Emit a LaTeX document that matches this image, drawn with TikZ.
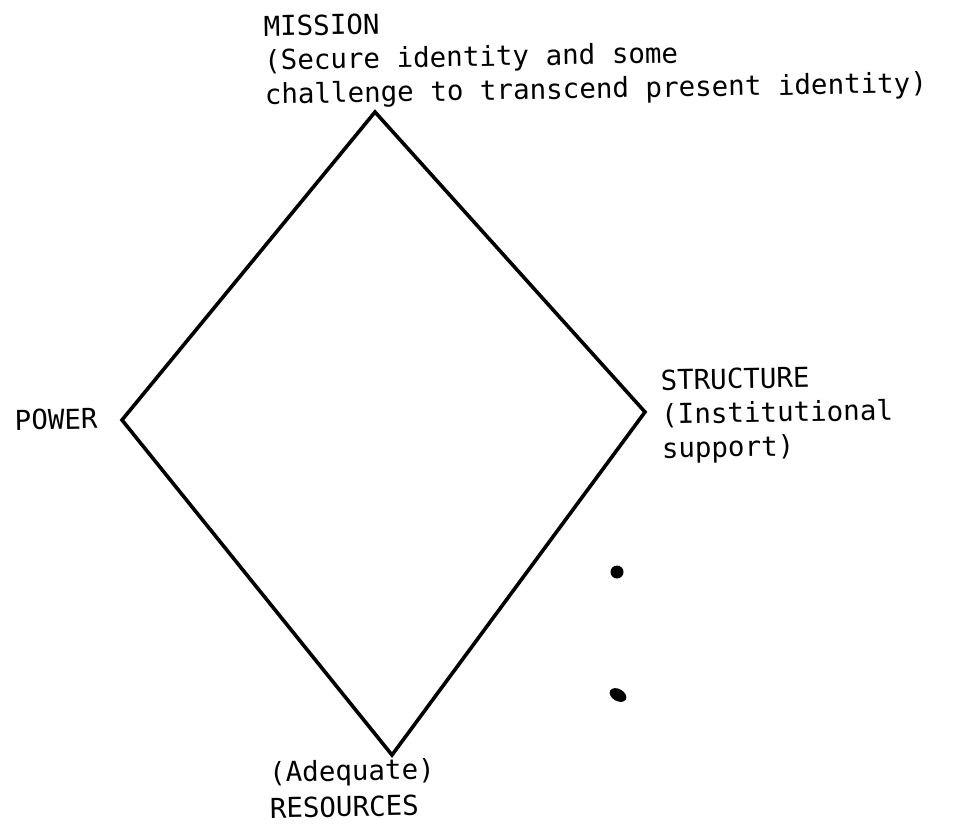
\documentclass[tikz,border=0pt]{standalone}
\usepackage{fontspec}
\newfontfamily\typew{DejaVu Sans Mono}
\tikzset{
  lbl/.style={font={\typew\fontsize{27.5}{34}\selectfont}, inner sep=0pt, outer sep=0pt, align=left, anchor=base west, rotate=1},
  edge/.style={line width=3.6pt, line join=miter},
}
\begin{document}
\begin{tikzpicture}[x=1pt,y=-1pt]
\useasboundingbox (0,0) rectangle (953,825);
\fill[white] (0,0) rectangle (953,825);
\coordinate (top) at (375,112);
\coordinate (right) at (645,412);
\coordinate (bot) at (392,755);
\coordinate (left) at (122,420);
\draw[edge] (top) -- (right) -- (bot) -- (left) -- cycle;
% anchor = baseline of the last line of each label
\node[lbl] (mission) at (265,104) {MISSION\\(Secure identity and some\\challenge to transcend present identity)};
\node[lbl] (structure) at (662,458) {STRUCTURE\\(Institutional\\support)};
\node[lbl] (power) at (15,430) {POWER};
\node[lbl, font={\typew\fontsize{27.5}{36}\selectfont}] (resources) at (270,818) {(Adequate)\\RESOURCES};
\fill (617,572) circle (6.5);
\fill[rotate around={-30:(618,695)}] (618,695) ellipse (9 and 6);
\end{tikzpicture}
\end{document}
